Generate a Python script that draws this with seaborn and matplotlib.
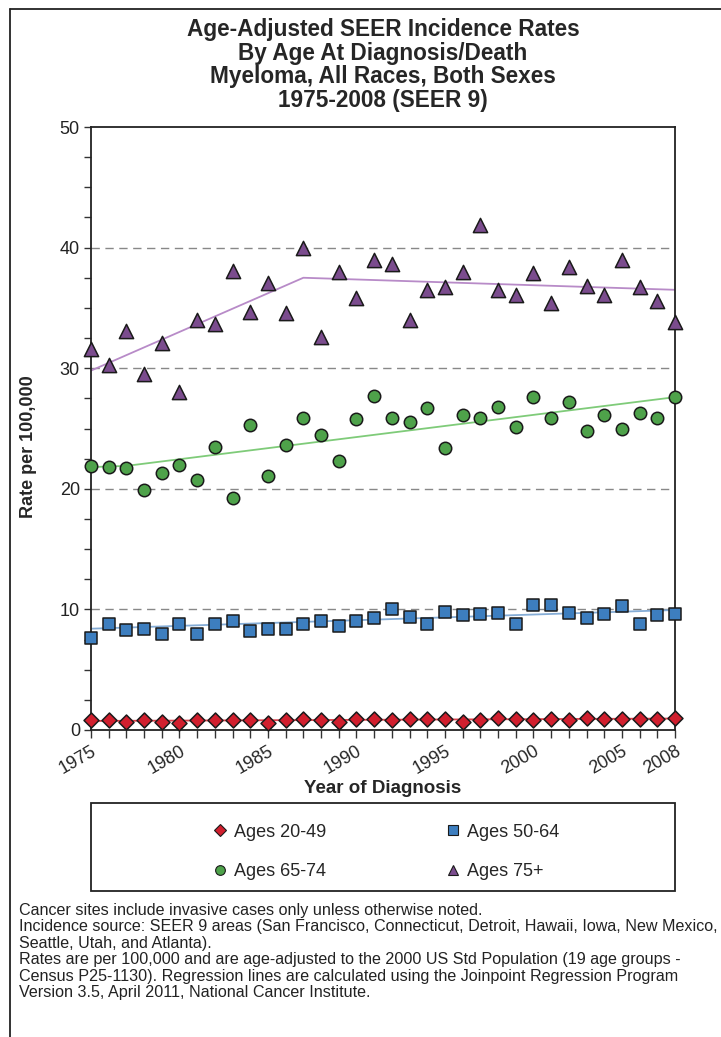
import numpy as np
import pandas as pd
import matplotlib
matplotlib.use("Agg")
import matplotlib.pyplot as plt
from matplotlib.lines import Line2D
from matplotlib.patches import Rectangle
from matplotlib.ticker import MultipleLocator
import seaborn as sns

# ---- data -------------------------------------------------------------
years = list(range(1975, 2009))

ages_20_49 = [0.8, 0.8, 0.7, 0.8, 0.7, 0.6, 0.8, 0.8, 0.8, 0.8, 0.6, 0.8,
              0.9, 0.8, 0.7, 0.9, 0.9, 0.8, 0.9, 0.9, 0.9, 0.7, 0.8, 1.0,
              0.9, 0.8, 0.9, 0.8, 1.0, 0.9, 0.9, 0.9, 0.9, 1.0]
ages_50_64 = [7.6, 8.8, 8.3, 8.4, 8.0, 8.8, 8.0, 8.8, 9.0, 8.2, 8.4, 8.4,
              8.8, 9.0, 8.6, 9.0, 9.3, 10.0, 9.4, 8.8, 9.8, 9.5, 9.6, 9.7,
              8.8, 10.4, 10.4, 9.7, 9.3, 9.6, 10.3, 8.8, 9.5, 9.6]
ages_65_74 = [21.9, 21.8, 21.7, 19.9, 21.3, 22.0, 20.7, 23.5, 19.2, 25.3,
              21.1, 23.6, 25.9, 24.5, 22.3, 25.8, 27.7, 25.9, 25.5, 26.7,
              23.4, 26.1, 25.9, 26.8, 25.1, 27.6, 25.9, 27.2, 24.8, 26.1,
              25.0, 26.3, 25.9, 27.6]
ages_75_plus = [31.6, 30.3, 33.1, 29.5, 32.1, 28.0, 34.0, 33.7, 38.1, 34.7,
                37.1, 34.6, 40.0, 32.6, 38.0, 35.8, 39.0, 38.6, 34.0, 36.5,
                36.7, 38.0, 41.9, 36.5, 36.1, 37.9, 35.4, 38.4, 36.8, 36.1,
                39.0, 36.7, 35.6, 33.8]

# Joinpoint regression fits (segment end points)
fit_20_49_years = [1975, 2008]
fit_20_49_rates = [0.75, 0.95]
fit_50_64_years = [1975, 2008]
fit_50_64_rates = [8.4, 9.95]
fit_65_74_years = [1975, 1977, 2008]
fit_65_74_rates = [21.8, 21.9, 27.6]
fit_75_plus_years = [1975, 1987, 2008]
fit_75_plus_rates = [29.8, 37.5, 36.5]

groups = ["Ages 20-49", "Ages 50-64", "Ages 65-74", "Ages 75+"]
tick_years = [1975, 1980, 1985, 1990, 1995, 2000, 2005, 2008]

footnote = ("Cancer sites include invasive cases only unless otherwise noted.\n"
            "Incidence source: SEER 9 areas (San Francisco, Connecticut, Detroit, Hawaii, Iowa, New Mexico,\n"
            "Seattle, Utah, and Atlanta).\n"
            "Rates are per 100,000 and are age-adjusted to the 2000 US Std Population (19 age groups -\n"
            "Census P25-1130). Regression lines are calculated using the Joinpoint Regression Program\n"
            "Version 3.5, April 2011, National Cancer Institute.")

# ---- tidy frames ------------------------------------------------------
points = pd.DataFrame({
    "Year": years * 4,
    "Rate": ages_20_49 + ages_50_64 + ages_65_74 + ages_75_plus,
    "Group": sum([[g] * len(years) for g in groups], []),
})
fit_parts = [(fit_20_49_years, fit_20_49_rates), (fit_50_64_years, fit_50_64_rates),
             (fit_65_74_years, fit_65_74_rates), (fit_75_plus_years, fit_75_plus_rates)]
fits = pd.concat([pd.DataFrame({"Year": y, "Rate": r, "Group": g})
                  for g, (y, r) in zip(groups, fit_parts)], ignore_index=True)

# ---- styling ----------------------------------------------------------
sns.set_style("white")
plt.rcParams["font.family"] = ["Liberation Sans", "DejaVu Sans"]

point_colors = {"Ages 20-49": "#d11f2e", "Ages 50-64": "#3d7ebf",
                "Ages 65-74": "#4ea24a", "Ages 75+": "#7b4c8e"}
line_colors = {"Ages 20-49": "#d9434d", "Ages 50-64": "#84acd6",
               "Ages 65-74": "#7fcb79", "Ages 75+": "#b88bc8"}
markers = {"Ages 20-49": "D", "Ages 50-64": "s", "Ages 65-74": "o", "Ages 75+": "^"}
sizes = {"Ages 20-49": 58, "Ages 50-64": 80, "Ages 65-74": 80, "Ages 75+": 105}

fig = plt.figure(figsize=(7.21, 10.37), dpi=100)
ax = fig.add_axes([91 / 721, 1 - 730 / 1037, 584 / 721, 603 / 1037])

sns.lineplot(data=fits, x="Year", y="Rate", hue="Group", palette=line_colors,
             linewidth=1.3, legend=False, ax=ax, zorder=2)

for g in groups:
    sns.scatterplot(data=points[points["Group"] == g], x="Year", y="Rate",
                    color=point_colors[g], marker=markers[g], s=sizes[g],
                    edgecolor="#1a1a1a", linewidth=1.1, legend=False, ax=ax,
                    zorder=3, clip_on=False)

ax.set_xlim(1975, 2008)
ax.set_ylim(0, 50)

ax.set_xticks(years)
ax.set_xticklabels([str(y) if y in tick_years else "" for y in years],
                   rotation=30, ha="right", rotation_mode="anchor", fontsize=13)
ax.yaxis.set_major_locator(MultipleLocator(10))
ax.yaxis.set_minor_locator(MultipleLocator(2.5))
ax.tick_params(axis="y", which="both", direction="out", length=5, width=1,
               color="#333333", labelsize=13, pad=3, left=True)
ax.tick_params(axis="x", direction="out", length=6, width=1, color="#333333",
               pad=3, bottom=True)
for label in ax.get_yticklabels():
    label.set_color("#222222")

ax.grid(False)
for yv in [10, 20, 30, 40]:
    ax.axhline(yv, color="#888888", linestyle=(0, (6, 4)), linewidth=1, zorder=1)

for side in ["left", "right", "top", "bottom"]:
    ax.spines[side].set_visible(True)
    ax.spines[side].set_color("#222222")
    ax.spines[side].set_linewidth(1.3)

ax.set_xlabel("Year of Diagnosis", fontsize=13.5, fontweight="bold", labelpad=2)
ax.set_ylabel("Rate per 100,000", fontsize=13, fontweight="bold")
ax.yaxis.set_label_coords(-0.092, 0.47)

fig.text(383 / 721, 1 - 18 / 1037,
         "Age-Adjusted SEER Incidence Rates\nBy Age At Diagnosis/Death\n"
         "Myeloma, All Races, Both Sexes\n1975-2008 (SEER 9)",
         ha="center", va="top", fontsize=16.3, fontweight="bold",
         linespacing=1.04)

# legend in its own box under the x axis (filled column by column)
legend_order = ["Ages 20-49", "Ages 65-74", "Ages 50-64", "Ages 75+"]
handles = [Line2D([], [], linestyle="none", marker=markers[g],
                  markerfacecolor=point_colors[g], markeredgecolor="#1a1a1a",
                  markeredgewidth=0.8, markersize=7 if g != "Ages 20-49" else 6)
           for g in legend_order]
fig.add_artist(Rectangle((91 / 721, 1 - 891 / 1037), 584 / 721, 88 / 1037,
                         transform=fig.transFigure, fill=False,
                         edgecolor="#222222", linewidth=1.3))
fig.legend(handles, legend_order, ncol=2, loc="center",
           bbox_to_anchor=(385 / 721, 1 - 852 / 1037), frameon=False,
           fontsize=13, handletextpad=0.3, handlelength=1.0,
           columnspacing=6.5, labelspacing=1.25)

fig.text(19 / 721, 1 - 903 / 1037, footnote, ha="left", va="top",
         fontsize=11.6, linespacing=1.12, color="#222222")

# page frame on the left and top edges
fig.add_artist(Line2D([10 / 721, 10 / 721], [0, 1 - 9 / 1037],
                      transform=fig.transFigure, color="#222222", linewidth=1.3))
fig.add_artist(Line2D([10 / 721, 1], [1 - 9 / 1037, 1 - 9 / 1037],
                      transform=fig.transFigure, color="#222222", linewidth=1.3))

fig.savefig("out.png", dpi=100, facecolor="white")
